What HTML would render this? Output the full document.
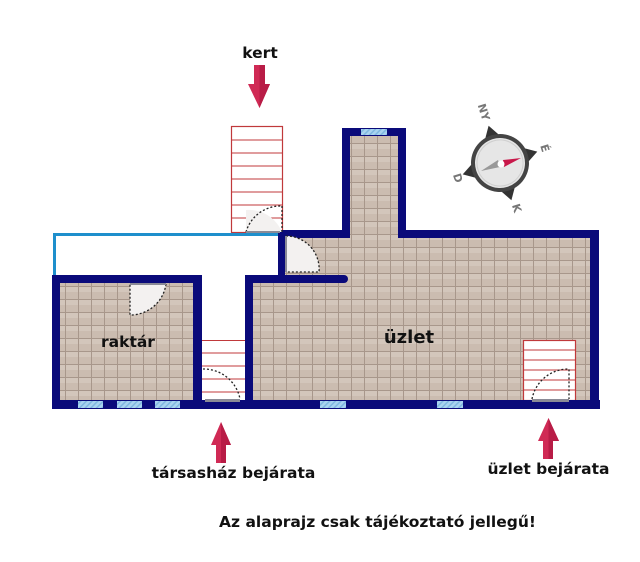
<!DOCTYPE html>
<html><head><meta charset="utf-8"><style>
html,body{margin:0;padding:0;background:#fff;}
svg{display:block;}
text{font-family:"DejaVu Sans","Liberation Sans",sans-serif;font-weight:bold;fill:#111;}
</style></head><body>
<svg width="640" height="562" viewBox="0 0 640 562" xmlns="http://www.w3.org/2000/svg">
<defs>
<pattern id="t" x="0" y="0" width="13" height="13" patternUnits="userSpaceOnUse">
<rect width="13" height="13" fill="#cbbcb0"/>
<rect width="13" height="6" fill="#d3c6bb"/>
<path d="M0 0.5H13M0.5 0V13" stroke="#a8978b" stroke-width="1"/>
</pattern>
<pattern id="w" width="4" height="4" patternUnits="userSpaceOnUse" patternTransform="rotate(45)">
<rect width="4" height="4" fill="#a9d3ef"/><rect width="1.5" height="4" fill="#7fb7e0"/>
</pattern>
</defs>
<rect x="56" y="279" width="142" height="125" fill="url(#t)"/>
<rect x="249" y="279" width="345" height="125" fill="url(#t)"/>
<rect x="282" y="234" width="312" height="46" fill="url(#t)"/>
<rect x="346" y="132" width="56" height="104" fill="url(#t)"/>
<rect x="202" y="283" width="43" height="117" fill="#fff"/>
<rect x="231.5" y="126.5" width="51" height="106" fill="#fff" stroke="#c0393b" stroke-width="1.2"/>
<g stroke="#c0393b" stroke-width="1">
<path d="M232 140H282M232 153H282M232 166H282M232 179H282M232 192H282M232 205H282M232 218H282"/>
</g>
<g stroke="#c0393b" stroke-width="1"><path d="M202 340.5H245M202 353H245M202 366H245M202 379H245M202 392H245"/></g>
<rect x="523.5" y="340.5" width="52" height="60" fill="#fff" stroke="#c0393b" stroke-width="1.2"/>
<g stroke="#c0393b" stroke-width="1"><path d="M524 350H575M524 360H575M524 370H575M524 380H575M524 390H575"/></g>
<path d="M54.5 275V234.5H280" fill="none" stroke="#1e8fcc" stroke-width="3"/>
<g fill="#0a0a7a">
<rect x="52" y="400" width="548" height="9"/>
<rect x="52" y="275" width="8" height="134"/>
<rect x="52" y="275" width="150" height="8" rx="3"/>
<rect x="193" y="275" width="9" height="134"/>
<rect x="245" y="275" width="8" height="134"/>
<rect x="245" y="275" width="103" height="8" rx="4"/>
<rect x="278" y="230" width="7" height="46"/>
<rect x="278" y="230" width="72" height="8"/>
<rect x="342" y="128" width="8" height="110"/>
<rect x="342" y="128" width="64" height="8"/>
<rect x="398" y="128" width="8" height="110"/>
<rect x="398" y="230" width="201" height="8"/>
<rect x="590" y="230" width="9" height="179"/>
</g>
<g fill="url(#w)">
<rect x="78" y="401" width="25" height="7"/><rect x="117" y="401" width="25" height="7"/><rect x="155" y="401" width="25" height="7"/>
<rect x="320" y="401" width="26" height="7"/><rect x="437" y="401" width="26" height="7"/>
<rect x="361" y="129" width="26" height="6"/>
</g>
<g fill="#f3f1f0" stroke="#222" stroke-width="1.3" stroke-dasharray="2,2">
<path d="M246 232V210A36 36 0 0 1 282 232Z" stroke="none"/>
<path d="M246 232A36 36 0 0 1 282 206" fill="none"/>
<path d="M282 206V232" fill="none"/>
<path d="M286 272V236A33 33 0 0 1 319 272Z" stroke="none"/>
<path d="M286 236A33 33 0 0 1 319 272H286" fill="none"/>
<path d="M130 284H166A36 36 0 0 1 130 315Z" stroke="none"/>
<path d="M166 284A36 36 0 0 1 130 315V284" fill="none"/>
<path d="M203 369A37 37 0 0 1 240 399" fill="none"/>
<path d="M532 399A37 37 0 0 1 569 369V399" fill="none"/>
</g>
<g fill="#8a8a96"><rect x="246" y="231" width="34" height="2"/><rect x="205" y="399" width="35" height="3"/><rect x="532" y="399" width="37" height="3"/><rect x="285" y="236" width="2" height="36"/><rect x="130" y="283" width="36" height="2"/></g>
<text x="128" y="347" font-size="15.5" text-anchor="middle">raktár</text>
<text x="409" y="343" font-size="18" text-anchor="middle">üzlet</text>
<text x="260" y="58" font-size="15.5" text-anchor="middle">kert</text>
<text x="233.5" y="478" font-size="15.5" text-anchor="middle">társasház bejárata</text>
<text x="548.5" y="474" font-size="15.5" text-anchor="middle">üzlet bejárata</text>
<text x="377.5" y="527" font-size="15.5" text-anchor="middle">Az alaprajz csak tájékoztató jellegű!</text>
<path d="M254 65H265V84H270L259.5 108L248 84H254Z" fill="#d02a55"/>
<path d="M259.5 65H265V84H270L259.5 108Z" fill="#b81c46"/>
<path d="M216 463H226V445H231L221 422L211 445H216Z" fill="#d02a55"/>
<path d="M221 463H226V445H231L221 422Z" fill="#b81c46"/>
<path d="M543 459H553V441H559L548.5 418L538 441H543Z" fill="#d02a55"/>
<path d="M548.5 459H553V441H559L548.5 418Z" fill="#b81c46"/>
<g transform="translate(500,163) rotate(-17)">
<path d="M-8 -26L0 -39L8 -26ZM26 -8L39 0L26 8ZM-8 26L0 39L8 26ZM-26 -8L-39 0L-26 8Z" fill="#333"/>
<circle r="29" fill="#444"/>
<circle r="25" fill="#e6e6e6"/>
<circle r="23" fill="none" stroke="#cfcfcf" stroke-width="1"/>
</g>
<path d="M521 158L503 160L504 167Z" fill="#c8184a"/>
<path d="M481 171L498 160L500 167Z" fill="#999"/>
<circle cx="501" cy="164" r="3.5" fill="#fff"/>
<g font-size="11">
<text x="484" y="116" transform="rotate(73 484 112)" text-anchor="middle" style="fill:#777">NY</text>
<text x="545" y="152" transform="rotate(73 545 148)" text-anchor="middle" style="fill:#777">É</text>
<text x="458" y="182" transform="rotate(73 458 178)" text-anchor="middle" style="fill:#777">D</text>
<text x="517" y="212" transform="rotate(73 517 208)" text-anchor="middle" style="fill:#777">K</text>
</g>
</svg>
</body></html>
